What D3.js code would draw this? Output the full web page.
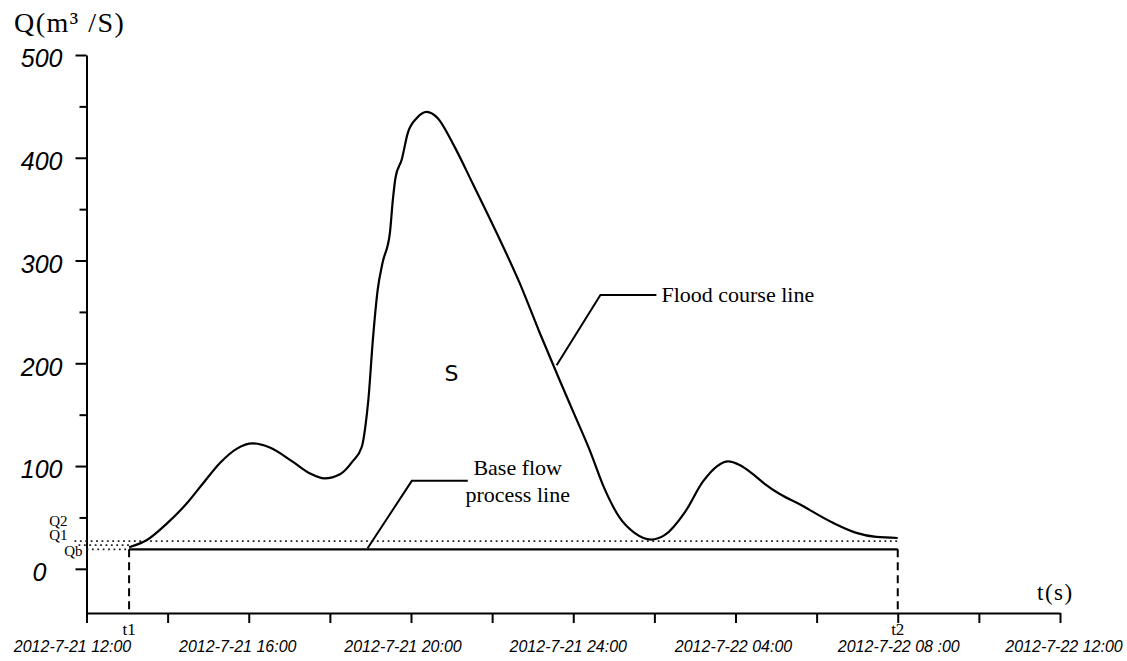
<!DOCTYPE html>
<html>
<head>
<meta charset="utf-8">
<script src="https://cdn.jsdelivr.net/npm/d3@7"></script>
<style>
  body { margin: 0; background: #fff; }
  svg { display: block; }
  .serif { font-family: "Liberation Serif", "Times New Roman", serif; fill: #000; }
  .sans-it { font-family: "Liberation Sans", Arial, sans-serif; font-style: italic; fill: #000; }
</style>
</head>
<body>
<div id="chart"></div>
<script>
// flood hydrograph, hours after 2012-7-21 12:00 and flow in m3/s
const flowHours = [1.05, 1.49, 1.98, 2.48, 2.87, 3.29, 3.71, 4.10, 4.52, 5.09, 5.50, 5.87, 6.25, 6.56, 6.79,
  6.88, 6.95, 7.06, 7.18, 7.30, 7.48, 7.55, 7.62, 7.77, 7.92, 8.14, 8.39, 8.66, 9.03, 9.52, 10.11, 10.68,
  11.17, 11.66, 12.03, 12.40, 12.77, 13.14, 13.51, 13.92, 14.26, 14.75, 15.20, 15.55, 15.82, 16.10, 16.39,
  16.71, 17.08, 17.57, 18.39, 18.98, 19.47, 20.0];
const flowValues = [21, 28, 44, 64, 83, 103, 117, 122, 118, 104, 93, 88, 92, 104.5, 119,
  140, 165, 223, 272, 298, 327, 358, 381, 398, 424, 438.5, 444.7, 438.5, 414, 375, 327, 278,
  230, 184, 150, 116, 78, 50, 35, 28.5, 33, 55, 85, 100, 104.5, 101, 93.4,
  83, 73, 63, 45, 35, 31, 30];

const xTickHours = d3.range(0, 25, 2);
const xLabelHours = [0, 4, 8, 12, 16, 20, 24];
const xLabels = ["2012-7-21 12:00", "2012-7-21 16:00", "2012-7-21 20:00", "2012-7-21 24:00",
  "2012-7-22 04:00", "2012-7-22 08 :00", "2012-7-22 12:00"];
const yTickValues = d3.range(0, 501, 50);

const levelNames = ["Q2", "Q1", "Qb"];
const levelValues = [46, 27, 19];
const t1 = 1.05, t2 = 20;

const floodLeader = [[11.59, 198], [12.67, 266.5], [14.05, 266.5]];
const baseLeader = [[6.93, 20], [8.02, 85.6], [9.40, 85.6]];

const width = 1127, height = 661;

const svg = d3.select("#chart").append("svg")
  .attr("width", width)
  .attr("height", height);

const x = d3.scaleLinear().domain([0, 24]).range([86.5, 1060]);
const y = d3.scaleLinear().domain([-43, 500]).range([613, 55]);
const xLabelPos = d3.scaleLinear().domain([0, 24]).range([72.5, 1064]);

// x axis
const xAxis = svg.append("g")
  .attr("transform", `translate(0,${y(-43)})`)
  .call(d3.axisBottom(x).tickValues(xTickHours).tickSize(10).tickSizeOuter(0).tickFormat(""));
xAxis.selectAll("path, line").attr("stroke", "#000").attr("stroke-width", 2);

svg.append("g")
  .selectAll("text")
  .data(xLabelHours)
  .join("text")
    .attr("class", "sans-it")
    .attr("x", d => xLabelPos(d))
    .attr("y", 652)
    .attr("text-anchor", "middle")
    .attr("font-size", 16)
    .text((d, i) => xLabels[i]);

// y axis
const yAxis = svg.append("g")
  .attr("transform", `translate(${x(0)},0)`)
  .call(d3.axisLeft(y).tickValues(yTickValues).tickSizeOuter(0)
    .tickFormat(d => d % 100 === 0 ? d : ""));
yAxis.selectAll("path, line").attr("stroke", "#000").attr("stroke-width", 2);
yAxis.selectAll(".tick line").attr("x2", d => d % 100 === 0 ? -11 : -7);
yAxis.selectAll(".tick text")
  .attr("class", "sans-it")
  .attr("font-size", 25)
  .attr("x", -24)
  .attr("dy", "0.47em");
yAxis.selectAll(".tick text").filter(d => d === 0)
  .attr("x", -47)
  .attr("text-anchor", "middle");

// dotted level lines
const dotted = svg.append("g")
  .attr("fill", "none")
  .attr("stroke", "#222")
  .attr("stroke-width", 1.8)
  .attr("stroke-dasharray", "1.8,3.6");
const midLevel = (levelValues[1] + levelValues[2]) / 2;
dotted.append("line")
  .attr("x1", x(0) - 12).attr("x2", x(t2))
  .attr("y1", y(levelValues[1])).attr("y2", y(levelValues[1]));
dotted.append("line")
  .attr("x1", x(0) - 8).attr("x2", x(t1))
  .attr("y1", y(midLevel)).attr("y2", y(midLevel));
dotted.append("line")
  .attr("x1", x(0)).attr("x2", x(t1))
  .attr("y1", y(levelValues[2])).attr("y2", y(levelValues[2]));

// level labels
const levelDx = [-19, -19, -4];
const levelDy = [-1, -6, 1];
svg.append("g")
  .selectAll("text")
  .data(levelNames)
  .join("text")
    .attr("class", "serif")
    .attr("font-size", 15)
    .attr("fill", "#333")
    .attr("text-anchor", "end")
    .attr("x", (d, i) => x(0) + levelDx[i])
    .attr("y", (d, i) => y(levelValues[i]) + levelDy[i])
    .attr("dy", "0.35em")
    .text(d => d);

// base flow line
svg.append("line")
  .attr("x1", x(t1)).attr("x2", x(t2))
  .attr("y1", y(levelValues[2])).attr("y2", y(levelValues[2]))
  .attr("stroke", "#000").attr("stroke-width", 2.2);

// dashed verticals at t1 and t2
svg.append("g")
  .selectAll("line")
  .data([t1, t2])
  .join("line")
    .attr("x1", d => x(d)).attr("x2", d => x(d))
    .attr("y1", y(levelValues[2])).attr("y2", y(-43))
    .attr("stroke", "#000").attr("stroke-width", 2)
    .attr("stroke-dasharray", "8,5");

svg.append("g")
  .selectAll("text")
  .data([["t1", t1], ["t2", t2]])
  .join("text")
    .attr("class", "serif")
    .attr("font-size", 17)
    .attr("fill", "#333")
    .attr("text-anchor", "middle")
    .attr("x", d => x(d[1]))
    .attr("y", 635)
    .text(d => d[0]);

// flood curve
const line = d3.line()
  .x((d, i) => x(flowHours[i]))
  .y(d => y(d))
  .curve(d3.curveMonotoneX);

svg.append("path")
  .datum(flowValues)
  .attr("fill", "none")
  .attr("stroke", "#000")
  .attr("stroke-width", 2.2)
  .attr("d", line);

// leaders
const leader = d3.line().x(d => x(d[0])).y(d => y(d[1]));
[floodLeader, baseLeader].forEach(pts => {
  svg.append("path")
    .attr("d", leader(pts))
    .attr("fill", "none")
    .attr("stroke", "#000")
    .attr("stroke-width", 2);
});

svg.append("text")
  .attr("class", "serif")
  .attr("font-size", 22)
  .attr("x", x(floodLeader[2][0]) + 5)
  .attr("y", y(floodLeader[2][1]))
  .attr("dy", "0.32em")
  .text("Flood course line");

svg.append("text")
  .attr("class", "serif")
  .attr("font-size", 22)
  .attr("text-anchor", "middle")
  .attr("x", x(10.63))
  .attr("y", y(91.4))
  .text("Base flow");
svg.append("text")
  .attr("class", "serif")
  .attr("font-size", 22)
  .attr("text-anchor", "middle")
  .attr("x", x(10.63))
  .attr("y", y(65.2))
  .text("process line");

// area label
svg.append("text")
  .attr("font-family", "'DejaVu Sans', 'Noto Sans', sans-serif")
  .attr("font-size", 22)
  .attr("text-anchor", "middle")
  .attr("x", x(9.0))
  .attr("y", y(190.7))
  .attr("dy", "0.36em")
  .text("S");

// axis titles
svg.append("text")
  .attr("class", "serif")
  .attr("font-size", 28)
  .attr("letter-spacing", 1.5)
  .attr("x", 14)
  .attr("y", 32)
  .text("Q(m³ /S)");

svg.append("text")
  .attr("class", "serif")
  .attr("font-size", 23)
  .attr("letter-spacing", 1.5)
  .attr("x", 1037)
  .attr("y", 600)
  .text("t(s)");
</script>
</body>
</html>
